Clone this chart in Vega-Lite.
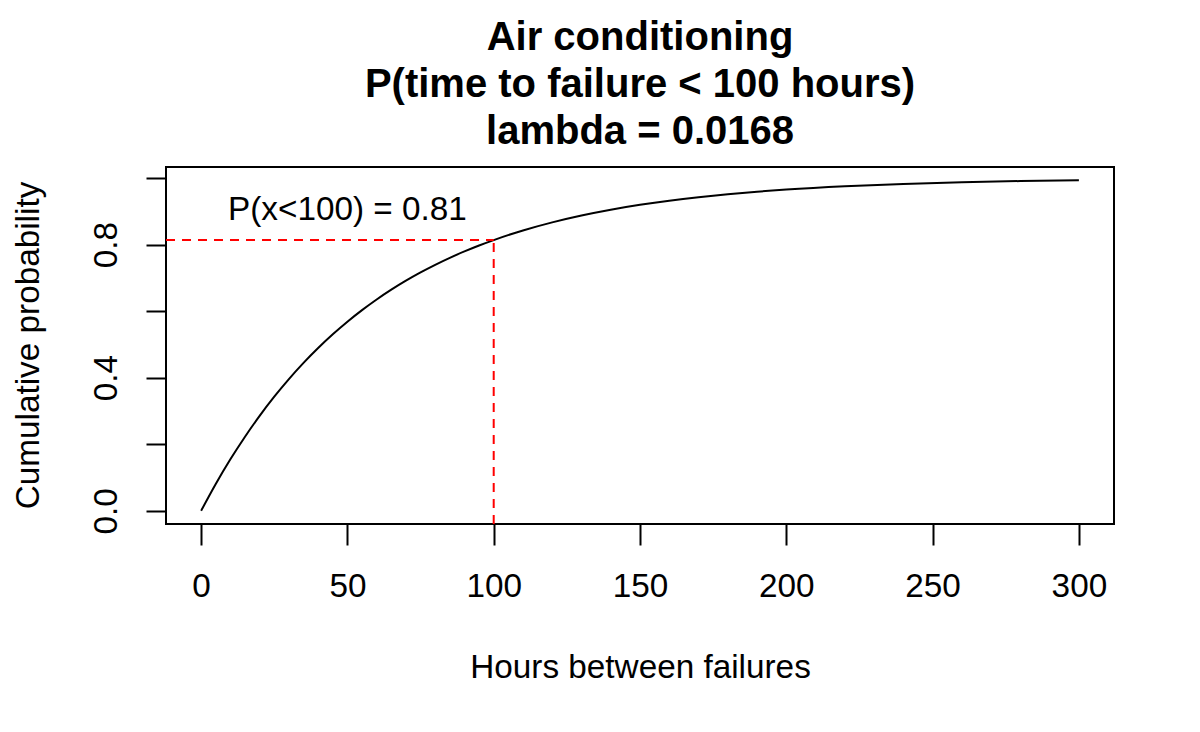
{
  "$schema": "https://vega.github.io/schema/vega-lite/v6.json",
  "width": 948,
  "height": 357,
  "autosize": {"type": "none"},
  "padding": {"left": 166, "top": 167, "right": 86, "bottom": 208},
  "background": "white",
  "title": {
    "text": ["Air conditioning", "P(time to failure < 100 hours)", "lambda = 0.0168"],
    "font": "Liberation Sans",
    "fontSize": 40,
    "fontWeight": "bold",
    "color": "black",
    "anchor": "middle",
    "frame": "group",
    "baseline": "bottom",
    "lineHeight": 47,
    "offset": -25
  },
  "config": {
    "view": {"stroke": "black", "strokeWidth": 2},
    "axis": {
      "domain": false,
      "grid": false,
      "tickColor": "black",
      "tickWidth": 2,
      "labelFont": "Liberation Sans",
      "labelFontSize": 33.3,
      "labelColor": "black",
      "titleFont": "Liberation Sans",
      "titleFontSize": 33.3,
      "titleFontWeight": "normal",
      "titleColor": "black"
    }
  },
  "datasets": {
    "curve": [
      {"hours": 0, "p": 0},
      {"hours": 5, "p": 0.0806},
      {"hours": 10, "p": 0.1546},
      {"hours": 15, "p": 0.2227},
      {"hours": 20, "p": 0.2854},
      {"hours": 25, "p": 0.3430},
      {"hours": 30, "p": 0.3959},
      {"hours": 35, "p": 0.4446},
      {"hours": 40, "p": 0.4893},
      {"hours": 45, "p": 0.5305},
      {"hours": 50, "p": 0.5683},
      {"hours": 55, "p": 0.6031},
      {"hours": 60, "p": 0.6351},
      {"hours": 65, "p": 0.6645},
      {"hours": 70, "p": 0.6915},
      {"hours": 75, "p": 0.7164},
      {"hours": 80, "p": 0.7392},
      {"hours": 85, "p": 0.7602},
      {"hours": 90, "p": 0.7795},
      {"hours": 95, "p": 0.7973},
      {"hours": 100, "p": 0.8136},
      {"hours": 110, "p": 0.8425},
      {"hours": 120, "p": 0.8668},
      {"hours": 130, "p": 0.8874},
      {"hours": 140, "p": 0.9048},
      {"hours": 150, "p": 0.9195},
      {"hours": 160, "p": 0.9320},
      {"hours": 170, "p": 0.9425},
      {"hours": 180, "p": 0.9514},
      {"hours": 190, "p": 0.9589},
      {"hours": 200, "p": 0.9653},
      {"hours": 220, "p": 0.9752},
      {"hours": 240, "p": 0.9823},
      {"hours": 260, "p": 0.9873},
      {"hours": 280, "p": 0.9909},
      {"hours": 300, "p": 0.9935}
    ],
    "refs": [
      {"x1": -12, "x2": 100, "y1": 0.8136, "y2": 0.8136},
      {"x1": 100, "x2": 100, "y1": -0.0397, "y2": 0.8136}
    ],
    "label": [
      {"hours": 50, "p": 0.873, "text": "P(x<100) = 0.81"}
    ]
  },
  "layer": [
    {
      "data": {"name": "curve"},
      "mark": {"type": "line", "color": "black", "strokeWidth": 2, "interpolate": "monotone"},
      "encoding": {
        "x": {
          "field": "hours", "type": "quantitative",
          "scale": {"domain": [-12, 312], "nice": false, "zero": false},
          "axis": {
            "title": "Hours between failures",
            "values": [0, 50, 100, 150, 200, 250, 300],
            "format": "d",
            "tickSize": 21,
            "labelPadding": 51,
            "labelBaseline": "alphabetic",
            "labelFlush": false,
            "labelOverlap": false,
            "titleX": 474,
            "titleY": 153,
            "titleAlign": "center",
            "titleBaseline": "alphabetic"
          }
        },
        "y": {
          "field": "p", "type": "quantitative",
          "scale": {"domain": [-0.0397, 1.0332], "nice": false, "zero": false},
          "axis": {
            "title": "Cumulative probability",
            "values": [0, 0.2, 0.4, 0.6, 0.8, 1.0],
            "labelExpr": "(abs(datum.value) < 0.001 || abs(datum.value - 0.4) < 0.001 || abs(datum.value - 0.8) < 0.001) ? format(datum.value, '.1f') : ''",
            "tickSize": 20,
            "labelPadding": 30,
            "labelAngle": -90,
            "labelAlign": "center",
            "labelBaseline": "alphabetic",
            "labelFlush": false,
            "labelOverlap": false,
            "titleAngle": 270,
            "titleX": -128,
            "titleY": 178,
            "titleAlign": "center",
            "titleBaseline": "alphabetic"
          }
        }
      }
    },
    {
      "data": {"name": "refs"},
      "mark": {"type": "rule", "color": "#FF0000", "strokeWidth": 2, "strokeDash": [9, 7]},
      "encoding": {
        "x": {"field": "x1", "type": "quantitative"},
        "x2": {"field": "x2"},
        "y": {"field": "y1", "type": "quantitative"},
        "y2": {"field": "y2"}
      }
    },
    {
      "data": {"name": "label"},
      "mark": {"type": "text", "font": "Liberation Sans", "fontSize": 33.3, "color": "black", "align": "center", "baseline": "alphabetic"},
      "encoding": {
        "x": {"field": "hours", "type": "quantitative"},
        "y": {"field": "p", "type": "quantitative"},
        "text": {"field": "text"}
      }
    }
  ]
}
